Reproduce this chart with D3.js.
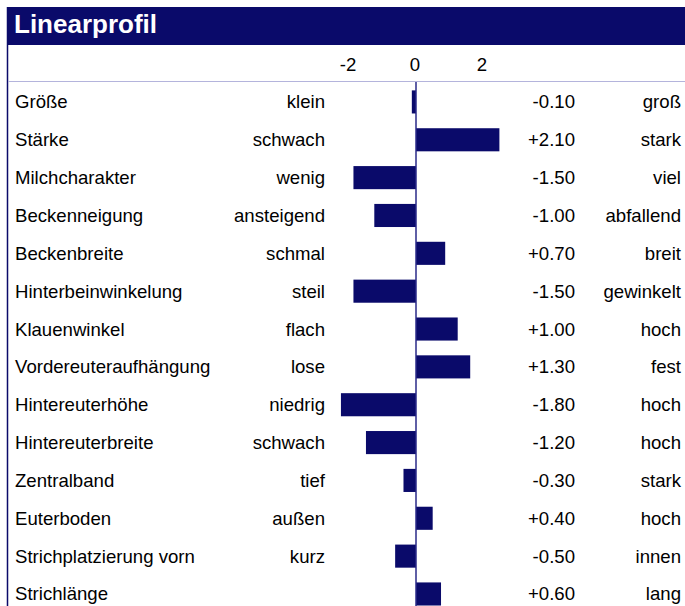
<!DOCTYPE html>
<html>
<head>
<meta charset="utf-8">
<script src="https://cdn.jsdelivr.net/npm/d3@7"></script>
<style>
  body { margin: 0; background: #fff; }
  text { font-family: "Liberation Sans", Arial, sans-serif; }
</style>
</head>
<body>
<div id="chart"></div>
<script>
var traits = ["Größe", "Stärke", "Milchcharakter", "Beckenneigung", "Beckenbreite",
  "Hinterbeinwinkelung", "Klauenwinkel", "Vordereuteraufhängung", "Hintereuterhöhe",
  "Hintereuterbreite", "Zentralband", "Euterboden", "Strichplatzierung vorn", "Strichlänge"];
var lowLabels = ["klein", "schwach", "wenig", "ansteigend", "schmal", "steil", "flach",
  "lose", "niedrig", "schwach", "tief", "außen", "kurz", ""];
var highLabels = ["groß", "stark", "viel", "abfallend", "breit", "gewinkelt", "hoch",
  "fest", "hoch", "hoch", "stark", "hoch", "innen", "lang"];
var values = [-0.10, 2.10, -1.50, -1.00, 0.70, -1.50, 1.00, 1.30, -1.80, -1.20, -0.30, 0.40, -0.50, 0.60];
var tickValues = [-2, 0, 2];

var W = 685, H = 606;
var navy = "#0a0a6a";
var fs = "18.6px";

var svg = d3.select("#chart").append("svg")
  .attr("width", W)
  .attr("height", H);

// title bar
svg.append("rect")
  .attr("x", 7).attr("y", 7)
  .attr("width", W - 7).attr("height", 38)
  .attr("fill", navy);
svg.append("text")
  .attr("x", 14).attr("y", 33)
  .attr("fill", "#fff")
  .style("font-size", "26px")
  .style("font-weight", "bold")
  .text("Linearprofil");

// left border
svg.append("line")
  .attr("x1", 7.5).attr("x2", 7.5)
  .attr("y1", 7).attr("y2", H)
  .attr("stroke", navy).attr("stroke-width", 1.5);

// header separator
svg.append("line")
  .attr("x1", 8).attr("x2", W)
  .attr("y1", 81.5).attr("y2", 81.5)
  .attr("stroke", "#b4b4dc").attr("stroke-width", 1.2);

// bars are cut off at +-2
var x = d3.scaleLinear().domain([-2, 2]).range([416 - 83.4, 416 + 83.4]).clamp(true);
var tickScale = d3.scaleLinear().domain([-2, 2]).range([348, 482]);
var y = d3.scaleBand().domain(traits).range([83, 83 + 14 * 37.85])
  .paddingInner(0.39).paddingOuter(0.195);

svg.append("g").selectAll("text")
  .data(tickValues)
  .join("text")
  .attr("x", function (d) { return tickScale(d); })
  .attr("y", 71)
  .attr("text-anchor", "middle")
  .style("font-size", fs)
  .attr("fill", "#000")
  .text(function (d) { return d; });

// bars
svg.append("g").selectAll("rect")
  .data(values)
  .join("rect")
  .attr("x", function (d) { return x(Math.min(0, d)); })
  .attr("y", function (d, i) { return y(traits[i]); })
  .attr("width", function (d) { return Math.abs(x(d) - x(0)); })
  .attr("height", y.bandwidth())
  .attr("fill", navy);

// zero line
svg.append("line")
  .attr("x1", x(0)).attr("x2", x(0))
  .attr("y1", 82).attr("y2", H)
  .attr("stroke", "#2a2a88").attr("stroke-width", 1.5);

var fmt = d3.format("+.2f");
var rows = svg.append("g").selectAll("g")
  .data(traits)
  .join("g")
  .attr("transform", function (d) { return "translate(0," + (y(d) + y.bandwidth() / 2) + ")"; });

rows.append("text")
  .attr("x", 15).attr("dy", "0.35em")
  .style("font-size", fs)
  .text(function (d) { return d; });
rows.append("text")
  .attr("x", 325).attr("dy", "0.35em")
  .attr("text-anchor", "end")
  .style("font-size", fs)
  .text(function (d, i) { return lowLabels[i]; });
rows.append("text")
  .attr("x", 575).attr("dy", "0.35em")
  .attr("text-anchor", "end")
  .style("font-size", fs)
  .text(function (d, i) { return fmt(values[i]).replace("\u2212", "-"); });
rows.append("text")
  .attr("x", 681).attr("dy", "0.35em")
  .attr("text-anchor", "end")
  .style("font-size", fs)
  .text(function (d, i) { return highLabels[i]; });
</script>
</body>
</html>
